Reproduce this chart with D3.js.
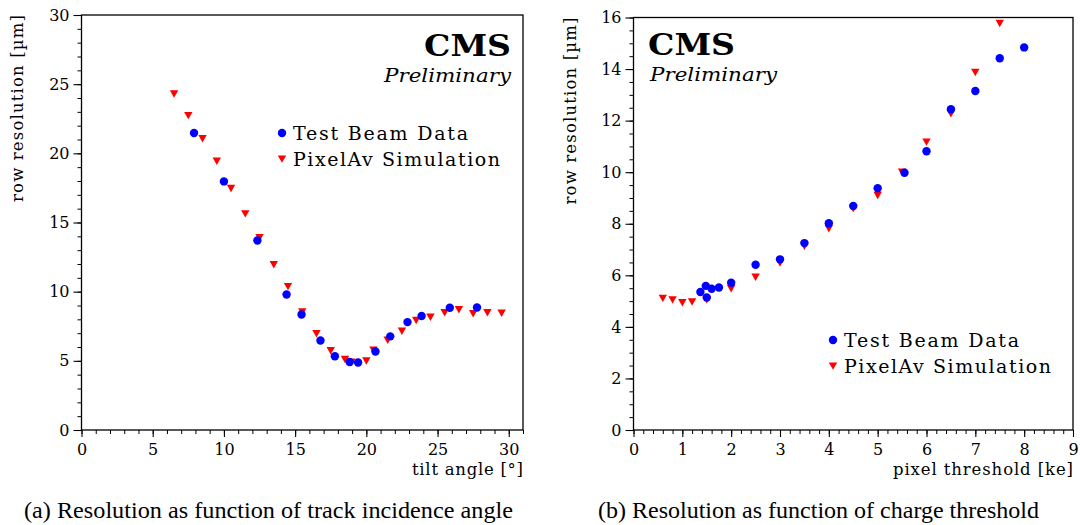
<!DOCTYPE html>
<html><head><meta charset="utf-8">
<script src="https://cdn.jsdelivr.net/npm/d3@7"></script>
<style>
html,body{margin:0;padding:0;background:#fff;}
svg{display:block;}
text{font-family:"DejaVu Serif",serif;fill:#000;}
</style></head>
<body>
<svg id="c" width="1080" height="525"></svg>
<script>
// ---- Panel (a): resolution vs tilt angle ----
const angleDataX = [7.9, 10.0, 12.35, 14.4, 15.45, 16.78, 17.79, 18.83, 19.42, 20.64, 21.68, 22.89, 23.88, 25.86, 27.77];
const angleDataY = [21.47, 17.97, 13.7, 9.8, 8.35, 6.47, 5.33, 4.92, 4.88, 5.67, 6.77, 7.8, 8.24, 8.84, 8.86];
const angleSimX = [6.5, 7.5, 8.5, 9.5, 10.5, 11.5, 12.5, 13.5, 14.5, 15.5, 16.5, 17.5, 18.5, 18.95, 20.0, 20.5, 21.5, 22.5, 23.5, 24.5, 25.5, 26.5, 27.5, 28.5, 29.5];
const angleSimY = [24.3, 22.73, 21.06, 19.44, 17.46, 15.63, 13.91, 11.95, 10.37, 8.55, 6.96, 5.74, 5.1, 4.9, 4.99, 5.77, 6.5, 7.15, 7.92, 8.16, 8.48, 8.7, 8.41, 8.48, 8.45];
const angleXTicks = [0, 5, 10, 15, 20, 25, 30];
const angleYTicks = [0, 5, 10, 15, 20, 25, 30];

// ---- Panel (b): resolution vs pixel threshold ----
const threshDataX = [1.37, 1.48, 1.5, 1.6, 1.75, 2.0, 2.5, 3.0, 3.5, 4.0, 4.5, 5.0, 5.55, 6.0, 6.5, 7.0, 7.5, 8.0];
const threshDataY = [5.35, 5.59, 5.14, 5.48, 5.53, 5.71, 6.41, 6.62, 7.25, 8.02, 8.69, 9.38, 9.98, 10.81, 12.44, 13.15, 14.42, 14.84];
const threshSimX = [0.6, 0.8, 1.0, 1.2, 1.5, 2.0, 2.5, 3.0, 3.5, 4.0, 4.5, 5.0, 5.5, 6.0, 6.5, 7.0, 7.5];
const threshSimY = [5.11, 5.05, 4.94, 4.97, 5.05, 5.48, 5.93, 6.48, 7.13, 7.81, 8.59, 9.1, 10.0, 11.17, 12.27, 13.87, 15.77];
const threshXTicks = [0, 1, 2, 3, 4, 5, 6, 7, 8, 9];
const threshYTicks = [0, 2, 4, 6, 8, 10, 12, 14, 16];

const legendLabels = ["Test Beam Data", "PixelAv Simulation"];
const captions = ["(a)  Resolution as function of track incidence angle", "(b)  Resolution as function of charge threshold"];

const svg = d3.select("#c");
svg.append("rect").attr("width",1080).attr("height",525).attr("fill","#fff");

const triPath = "M-4.2,-3.6L4.2,-3.6L0,3.8Z";
const legendW = [175, 207];

function panel(cfg){
  const g = svg.append("g");
  const x = d3.scaleLinear().domain(cfg.xDom).range([cfg.left, cfg.right]);
  const y = d3.scaleLinear().domain(cfg.yDom).range([cfg.bottom, cfg.top]);

  g.append("rect").attr("x",cfg.left).attr("y",cfg.top)
    .attr("width",cfg.right-cfg.left).attr("height",cfg.bottom-cfg.top)
    .attr("fill","none").attr("stroke","#000").attr("stroke-width",1.3);

  const minorX = d3.range(cfg.xDom[0], cfg.xDom[1]+1e-9, cfg.xMinor);
  const minorY = d3.range(cfg.yDom[0], cfg.yDom[1]+1e-9, cfg.yMinor);
  g.append("g").attr("transform",`translate(0,${cfg.bottom})`)
    .call(d3.axisBottom(x).tickValues(minorX).tickSize(4).tickSizeOuter(0).tickFormat(""))
    .call(a=>a.select(".domain").remove())
    .call(a=>a.selectAll("line").attr("stroke","#000").attr("stroke-width",1));
  g.append("g").attr("transform",`translate(${cfg.left},0)`)
    .call(d3.axisLeft(y).tickValues(minorY).tickSize(4).tickSizeOuter(0).tickFormat(""))
    .call(a=>a.select(".domain").remove())
    .call(a=>a.selectAll("line").attr("stroke","#000").attr("stroke-width",1));

  g.append("g").attr("transform",`translate(0,${cfg.bottom})`)
    .call(d3.axisBottom(x).tickValues(cfg.xTicks).tickSize(7).tickSizeOuter(0).tickPadding(7).tickFormat(d3.format("d")))
    .call(a=>a.select(".domain").remove())
    .call(a=>a.selectAll("line").attr("stroke","#000").attr("stroke-width",1.1))
    .call(a=>a.selectAll("text").style("font-family","DejaVu Serif").style("font-size","16px").attr("fill","#000"));
  g.append("g").attr("transform",`translate(${cfg.left},0)`)
    .call(d3.axisLeft(y).tickValues(cfg.yTicks).tickSize(8).tickSizeOuter(0).tickPadding(4).tickFormat(d3.format("d")))
    .call(a=>a.select(".domain").remove())
    .call(a=>a.selectAll("line").attr("stroke","#000").attr("stroke-width",1.1))
    .call(a=>a.selectAll("text").style("font-family","DejaVu Serif").style("font-size","16px").attr("fill","#000"));

  g.append("text").attr("x",cfg.right).attr("y",cfg.bottom+45).attr("text-anchor","end")
    .attr("textLength",cfg.xTitleW).attr("lengthAdjust","spacing")
    .style("font-size","16.5px").text(cfg.xTitle);
  g.append("text").attr("transform",`translate(${cfg.yTitleX},${cfg.top}) rotate(-90)`)
    .attr("text-anchor","end").attr("textLength",187).attr("lengthAdjust","spacing")
    .style("font-size","16.5px").text("row resolution [µm]");

  g.append("text").attr("x",cfg.cmsX).attr("y",cfg.cmsY).attr("text-anchor",cfg.cmsAnchor)
    .attr("textLength",87).attr("lengthAdjust","spacingAndGlyphs")
    .style("font-size","30px").style("font-weight","bold").text("CMS");
  g.append("text").attr("x",cfg.prelX).attr("y",cfg.cmsY+26).attr("text-anchor",cfg.cmsAnchor)
    .attr("textLength",127).attr("lengthAdjust","spacingAndGlyphs")
    .style("font-size","19px").style("font-style","italic").text("Preliminary");

  const sim = d3.zip(cfg.simX, cfg.simY);
  g.append("g").selectAll("path").data(sim).join("path")
    .attr("d",triPath).attr("fill","#ff0000")
    .attr("transform",d=>`translate(${x(d[0])},${y(d[1])})`);
  const dat = d3.zip(cfg.dataX, cfg.dataY);
  g.append("g").selectAll("circle").data(dat).join("circle")
    .attr("cx",d=>x(d[0])).attr("cy",d=>y(d[1])).attr("r",4.2).attr("fill","#0000ff");

  const lg = g.append("g").attr("transform",`translate(${cfg.legX},${cfg.legY})`);
  lg.append("circle").attr("cx",0).attr("cy",0).attr("r",4.2).attr("fill","#0000ff");
  lg.append("path").attr("d",triPath).attr("fill","#ff0000").attr("transform","translate(0,26)");
  lg.selectAll("text").data(legendLabels).join("text")
    .attr("x",11).attr("y",(d,i)=>i*26+7).attr("textLength",(d,i)=>legendW[i]).attr("lengthAdjust","spacing")
    .style("font-size","19px").text(d=>d);

  svg.append("text").attr("x",cfg.capX).attr("y",518).attr("textLength",cfg.capW).attr("lengthAdjust","spacingAndGlyphs")
    .style("font-family","Liberation Serif").style("font-size","23px").text(cfg.caption);
}

panel({
  left:81.5, right:523, top:15, bottom:430,
  xDom:[0,31], yDom:[0,30], xMinor:1, yMinor:1,
  xTicks:angleXTicks, yTicks:angleYTicks,
  xTitle:"tilt angle [°]", xTitleW:111, yTitleX:23,
  cmsX:511, cmsY:56, prelX:511, cmsAnchor:"end",
  dataX:angleDataX, dataY:angleDataY, simX:angleSimX, simY:angleSimY,
  legX:282, legY:133,
  capX:24, capW:489, caption:captions[0]
});
panel({
  left:633.5, right:1073, top:17.5, bottom:430,
  xDom:[0,9], yDom:[0,16], xMinor:0.2, yMinor:0.5,
  xTicks:threshXTicks, yTicks:threshYTicks,
  xTitle:"pixel threshold [ke]", xTitleW:180, yTitleX:576,
  cmsX:648, cmsY:55, prelX:650, cmsAnchor:"start",
  dataX:threshDataX, dataY:threshDataY, simX:threshSimX, simY:threshSimY,
  legX:833, legY:340,
  capX:598, capW:441, caption:captions[1]
});
</script>
</body></html>
